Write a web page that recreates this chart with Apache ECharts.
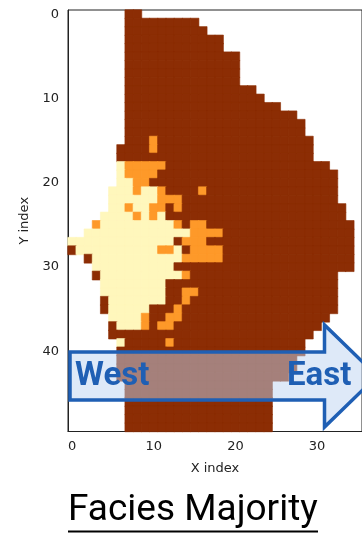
<!DOCTYPE html>
<html>
<head>
<meta charset="utf-8">
<script src="https://cdn.jsdelivr.net/npm/echarts@6/dist/echarts.min.js"></script>
<style>
  html, body { margin: 0; padding: 0; background: #fff; }
  #chart { width: 362px; height: 533px; }
</style>
</head>
<body>
<div id="chart"></div>
<script>
// facies code -> colour (0 sand, 1 mixed, 2 shale)
const faciesColors = ['#fff7bc', '#fe9929', '#8c2d04'];

const xCategories = ['0','1','2','3','4','5','6','7','8','9','10','11','12','13','14','15','16','17',
  '18','19','20','21','22','23','24','25','26','27','28','29','30','31','32','33','34','35'];
const yCategories = ['0','1','2','3','4','5','6','7','8','9','10','11','12','13','14','15','16','17',
  '18','19','20','21','22','23','24','25','26','27','28','29','30','31','32','33','34','35','36','37',
  '38','39','40','41','42','43','44','45','46','47','48','49'];

// one entry per row (y index): runs of [fromX, toX, facies]
const faciesRuns = [
  [[7, 8, 2]],
  [[7, 15, 2]],
  [[7, 16, 2]],
  [[7, 18, 2]],
  [[7, 18, 2]],
  [[7, 20, 2]],
  [[7, 20, 2]],
  [[7, 20, 2]],
  [[7, 20, 2]],
  [[7, 22, 2]],
  [[7, 23, 2]],
  [[7, 25, 2]],
  [[7, 27, 2]],
  [[7, 28, 2]],
  [[7, 28, 2]],
  [[7, 9, 2], [10, 10, 1], [11, 29, 2]],
  [[6, 9, 2], [10, 10, 1], [11, 29, 2]],
  [[6, 29, 2]],
  [[6, 6, 0], [7, 11, 1], [12, 31, 2]],
  [[6, 6, 0], [7, 10, 1], [11, 32, 2]],
  [[6, 7, 0], [8, 9, 1], [10, 32, 2]],
  [[5, 7, 0], [8, 8, 1], [9, 10, 0], [11, 11, 1], [12, 15, 2], [16, 16, 1], [17, 32, 2]],
  [[5, 10, 0], [11, 13, 1], [14, 32, 2]],
  [[5, 6, 0], [7, 7, 1], [8, 9, 0], [10, 11, 1], [12, 12, 2], [13, 13, 1], [14, 33, 2]],
  [[4, 7, 0], [8, 8, 1], [9, 9, 0], [10, 10, 1], [11, 11, 0], [12, 33, 2]],
  [[3, 3, 1], [4, 12, 0], [13, 13, 1], [14, 14, 2], [15, 16, 1], [17, 34, 2]],
  [[2, 14, 0], [15, 18, 1], [19, 34, 2]],
  [[0, 12, 0], [13, 13, 2], [14, 16, 1], [17, 34, 2]],
  [[0, 0, 2], [1, 10, 0], [11, 12, 1], [13, 13, 0], [14, 14, 2], [15, 18, 1], [19, 34, 2]],
  [[2, 2, 2], [3, 13, 0], [14, 18, 1], [19, 34, 2]],
  [[3, 12, 0], [13, 34, 2]],
  [[3, 3, 2], [4, 13, 0], [14, 14, 1], [15, 32, 2]],
  [[4, 11, 0], [12, 32, 2]],
  [[4, 11, 0], [12, 13, 2], [14, 15, 1], [16, 32, 2]],
  [[4, 4, 2], [5, 11, 0], [12, 13, 2], [14, 14, 1], [15, 32, 2]],
  [[4, 4, 2], [5, 9, 0], [10, 12, 2], [13, 13, 1], [14, 32, 2]],
  [[5, 8, 0], [9, 9, 1], [10, 11, 2], [12, 13, 1], [14, 31, 2]],
  [[5, 5, 2], [6, 8, 0], [9, 9, 1], [10, 10, 2], [11, 12, 1], [13, 30, 2]],
  [[5, 29, 2]],
  [[6, 6, 0], [7, 11, 2], [12, 12, 1], [13, 28, 2]],
  [[6, 28, 2]],
  [[6, 27, 2]],
  [[6, 27, 2]],
  [[6, 26, 2]],
  [[7, 24, 2]],
  [[7, 24, 2]],
  [[7, 24, 2]],
  [[7, 24, 2]],
  [[7, 24, 2]],
  [[7, 24, 2]]
];

// expand runs into heatmap cells; a thin same-colour border hides the seams
const cells = [];
faciesRuns.forEach((runs, y) => {
  runs.forEach(([x0, x1, f]) => {
    for (let x = x0; x <= x1; x++) {
      const c = faciesColors[f];
      cells.push({ value: [x, y, f], itemStyle: { color: c, borderColor: c, borderWidth: 0.6 } });
    }
  });
});

const axisColor = '#222';
const tickFont = { fontSize: 13, fontFamily: 'DejaVu Sans', color: '#222' };
const arrowBlue = '#1f5fb4';

const chart = echarts.init(document.getElementById('chart'), null, { renderer: 'canvas' });

chart.setOption({
  animation: false,
  grid: {
    left: 68, top: 10, width: 303.5, height: 421.5,
    show: true, borderColor: axisColor, borderWidth: 1, backgroundColor: 'transparent'
  },
  xAxis: {
    type: 'category', data: xCategories, position: 'bottom',
    axisLine: { lineStyle: { color: axisColor, width: 1 } },
    axisTick: { alignWithLabel: true, interval: 9, length: 5, lineStyle: { color: axisColor } },
    axisLabel: { ...tickFont, interval: 9, margin: 9 },
    splitLine: { show: false },
    name: 'X index', nameLocation: 'middle', nameGap: 31,
    nameTextStyle: tickFont
  },
  yAxis: {
    type: 'category', data: yCategories, inverse: true,
    axisLine: { lineStyle: { color: axisColor, width: 1 } },
    axisTick: { alignWithLabel: true, interval: 9, length: 5, lineStyle: { color: axisColor } },
    axisLabel: { ...tickFont, interval: 9, margin: 9 },
    splitLine: { show: false },
    name: 'Y index', nameLocation: 'middle', nameGap: 37, nameRotate: 90,
    nameTextStyle: tickFont
  },
  series: [{
    type: 'heatmap',
    data: cells,
    emphasis: { disabled: true },
    silent: true
  }],
  graphic: [
    {
      type: 'polygon', z: 100,
      shape: { points: [[70, 352], [324.5, 352], [324.5, 325], [377, 376], [324.5, 427], [324.5, 400], [70, 400]] },
      style: { fill: 'rgba(190, 212, 242, 0.5)', stroke: arrowBlue, lineWidth: 3.5, lineJoin: 'miter' }
    },
    {
      type: 'text', z: 101, x: 75, y: 377,
      style: { text: 'West', font: 'bold 33px Roboto', fill: arrowBlue, verticalAlign: 'middle' }
    },
    {
      type: 'text', z: 101, x: 287, y: 377,
      style: { text: 'East', font: 'bold 33px Roboto', fill: arrowBlue, verticalAlign: 'middle' }
    },
    {
      type: 'text', z: 101, x: 68, y: 511,
      style: { text: 'Facies Majority', font: '37px Roboto', fill: '#000', verticalAlign: 'middle' }
    },
    {
      type: 'line', z: 101,
      shape: { x1: 68, y1: 531.5, x2: 318, y2: 531.5 },
      style: { stroke: '#000', lineWidth: 2 }
    }
  ]
});
</script>
</body>
</html>
